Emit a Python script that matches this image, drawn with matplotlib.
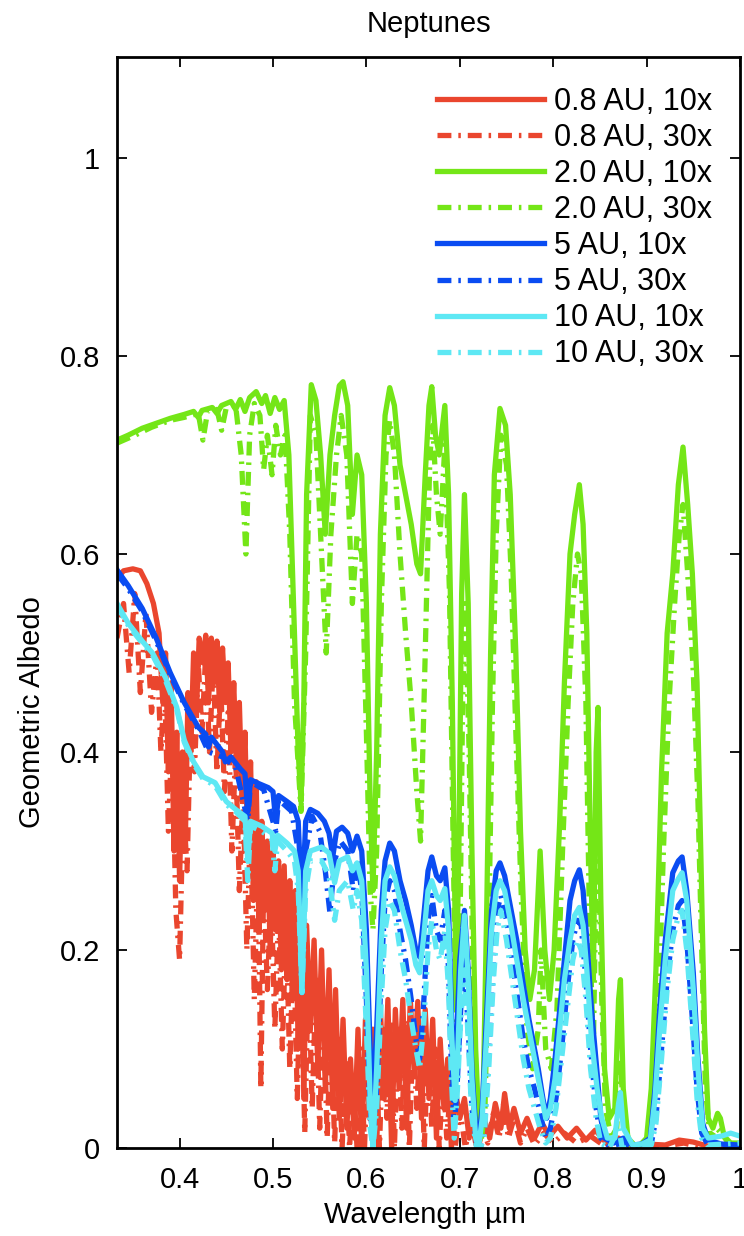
import numpy as np
import matplotlib
matplotlib.use("Agg")
import matplotlib.pyplot as plt

plt.rcParams['font.family'] = ['Liberation Sans', 'DejaVu Sans']
plt.rcParams['lines.scale_dashes'] = False

# ---------------- data (wavelength [um], geometric albedo) ----------------
R10 = [(0.333,0.575),(0.340,0.583),(0.350,0.585),(0.358,0.583),(0.365,0.570),(0.372,0.550),(0.378,0.520),
       (0.382,0.450),(0.385,0.500),(0.388,0.380),(0.391,0.470),(0.394,0.300),(0.397,0.420),(0.400,0.270),
       (0.403,0.400),(0.406,0.300),(0.409,0.460),(0.412,0.400),(0.415,0.500),(0.418,0.440),(0.421,0.515),
       (0.425,0.490),(0.428,0.518),(0.431,0.450),(0.434,0.515),(0.437,0.470),(0.440,0.512),(0.443,0.440),
       (0.446,0.505),(0.449,0.450),(0.452,0.490),(0.455,0.400),(0.458,0.470),(0.461,0.380),(0.464,0.450),
       (0.467,0.350),(0.470,0.420),(0.473,0.300),(0.476,0.390),(0.479,0.250),(0.482,0.370),(0.485,0.220),
       (0.488,0.330),(0.491,0.250),(0.494,0.310),(0.497,0.200),(0.500,0.300),(0.503,0.220),(0.506,0.290),
       (0.509,0.180),(0.512,0.285),(0.515,0.170),(0.518,0.270),(0.521,0.150),(0.524,0.260),(0.527,0.100),
       (0.530,0.240),(0.533,0.050),(0.536,0.225),(0.540,0.120),(0.544,0.210),(0.548,0.080),(0.552,0.200),
       (0.556,0.060),(0.560,0.180),(0.564,0.040),(0.567,0.160),(0.571,0.030),(0.575,0.130),(0.579,0.020),
       (0.583,0.090),(0.587,0.010),(0.591,0.120),(0.595,0.000),(0.599,0.130),(0.603,0.030),(0.607,0.120),
       (0.611,0.000),(0.615,0.140),(0.619,0.050),(0.623,0.150),(0.627,0.000),(0.631,0.140),(0.635,0.060),
       (0.639,0.150),(0.643,0.020),(0.647,0.150),(0.651,0.080),(0.655,0.148),(0.659,0.030),(0.663,0.140),
       (0.667,0.050),(0.671,0.130),(0.675,0.010),(0.679,0.110),(0.683,0.040),(0.687,0.090),(0.691,0.000),
       (0.695,0.060),(0.700,0.030),(0.705,0.050),(0.710,0.010),(0.715,0.040),(0.720,0.000),(0.726,0.030),
       (0.732,0.010),(0.738,0.045),(0.744,0.020),(0.748,0.055),(0.753,0.020),(0.758,0.040),(0.765,0.015),
       (0.772,0.030),(0.780,0.010),(0.788,0.025),(0.796,0.012),(0.805,0.022),(0.815,0.010),(0.825,0.020),
       (0.835,0.008),(0.845,0.018),(0.858,0.004),(0.870,0.010),(0.885,0.002),(0.900,0.004),(0.920,0.003),
       (0.935,0.008),(0.950,0.006),(0.965,0.002),(0.980,0.000),(1.000,0.000)]

R30 = [(0.333,0.515),(0.340,0.550),(0.346,0.480),(0.352,0.560),(0.358,0.460),(0.364,0.540),(0.370,0.440),
       (0.376,0.500),(0.380,0.400),(0.384,0.470),(0.388,0.320),(0.392,0.420),(0.396,0.240),(0.400,0.190),
       (0.404,0.350),(0.408,0.280),(0.412,0.440),(0.416,0.380),(0.420,0.490),(0.424,0.420),(0.428,0.500),
       (0.432,0.400),(0.436,0.490),(0.440,0.380),(0.444,0.470),(0.448,0.360),(0.452,0.440),(0.456,0.300),
       (0.460,0.400),(0.464,0.260),(0.468,0.360),(0.472,0.200),(0.476,0.330),(0.480,0.150),(0.484,0.300),
       (0.487,0.060),(0.490,0.270),(0.494,0.160),(0.498,0.260),(0.502,0.120),(0.506,0.240),(0.510,0.100),
       (0.514,0.230),(0.518,0.080),(0.522,0.210),(0.526,0.050),(0.530,0.200),(0.534,0.015),(0.538,0.180),
       (0.542,0.040),(0.546,0.170),(0.550,0.020),(0.554,0.150),(0.558,0.010),(0.562,0.130),(0.566,0.005),
       (0.570,0.110),(0.574,0.000),(0.578,0.090),(0.582,0.000),(0.586,0.070),(0.590,0.000),(0.594,0.100),
       (0.598,0.000),(0.602,0.110),(0.606,0.020),(0.610,0.100),(0.614,0.000),(0.618,0.120),(0.622,0.030),
       (0.626,0.130),(0.630,0.000),(0.634,0.120),(0.638,0.020),(0.642,0.130),(0.646,0.000),(0.650,0.120),
       (0.654,0.040),(0.658,0.120),(0.662,0.000),(0.666,0.110),(0.670,0.020),(0.674,0.100),(0.678,0.000),
       (0.682,0.080),(0.686,0.010),(0.690,0.060),(0.695,0.000),(0.700,0.040),(0.706,0.000),(0.712,0.030),
       (0.718,0.000),(0.724,0.020),(0.730,0.005),(0.736,0.035),(0.742,0.010),(0.747,0.045),(0.752,0.010),
       (0.758,0.030),(0.765,0.005),(0.772,0.020),(0.780,0.003),(0.790,0.015),(0.800,0.005),(0.812,0.015),
       (0.825,0.005),(0.840,0.012),(0.855,0.002),(0.870,0.006),(0.890,0.000),(0.920,0.002),(0.940,0.005),
       (0.960,0.000),(1.000,0.000)]

G10 = [(0.333,0.715),(0.345,0.720),(0.360,0.727),(0.375,0.732),(0.390,0.737),(0.405,0.741),(0.415,0.744),
       (0.420,0.738),(0.424,0.745),(0.435,0.748),(0.440,0.742),(0.445,0.750),(0.455,0.754),(0.460,0.746),
       (0.465,0.756),(0.470,0.744),(0.475,0.758),(0.482,0.764),(0.488,0.752),(0.492,0.760),(0.497,0.742),
       (0.502,0.758),(0.507,0.746),(0.512,0.755),(0.517,0.700),(0.522,0.550),(0.527,0.400),(0.530,0.350),
       (0.533,0.450),(0.536,0.660),(0.541,0.771),(0.546,0.755),(0.551,0.700),(0.556,0.620),(0.561,0.700),
       (0.566,0.740),(0.571,0.770),(0.575,0.774),(0.580,0.750),(0.585,0.640),(0.590,0.700),(0.595,0.680),
       (0.600,0.550),(0.604,0.350),(0.607,0.260),(0.611,0.400),(0.615,0.620),(0.620,0.740),(0.625,0.768),
       (0.630,0.750),(0.636,0.690),(0.642,0.660),(0.648,0.630),(0.654,0.590),(0.658,0.580),(0.663,0.680),
       (0.667,0.750),(0.670,0.769),(0.674,0.720),(0.678,0.700),(0.684,0.750),(0.688,0.660),(0.692,0.450),
       (0.696,0.150),(0.699,0.300),(0.702,0.560),(0.705,0.660),(0.709,0.550),(0.713,0.300),(0.717,0.100),
       (0.721,0.010),(0.725,0.050),(0.729,0.250),(0.733,0.500),(0.737,0.680),(0.743,0.747),(0.749,0.730),
       (0.754,0.660),(0.760,0.500),(0.765,0.320),(0.770,0.200),(0.775,0.150),(0.780,0.180),(0.786,0.300),
       (0.791,0.200),(0.796,0.150),(0.801,0.200),(0.807,0.330),(0.812,0.470),(0.818,0.600),(0.823,0.640),
       (0.828,0.670),(0.832,0.630),(0.836,0.520),(0.840,0.300),(0.843,0.170),(0.846,0.400),(0.848,0.445),
       (0.851,0.250),(0.855,0.080),(0.860,0.030),(0.866,0.040),(0.870,0.150),(0.872,0.170),(0.875,0.060),
       (0.880,0.010),(0.890,0.000),(0.900,0.010),(0.905,0.060),(0.910,0.180),(0.916,0.380),(0.922,0.520),
       (0.928,0.580),(0.934,0.670),(0.939,0.708),(0.944,0.650),(0.949,0.580),(0.954,0.470),(0.958,0.300),
       (0.962,0.120),(0.966,0.030),(0.971,0.020),(0.976,0.035),(0.979,0.030),(0.983,0.012),(0.990,0.005),
       (1.000,0.005)]

G30 = [(0.333,0.712),(0.350,0.719),(0.370,0.728),(0.390,0.735),(0.405,0.738),(0.420,0.742),(0.425,0.715),
       (0.430,0.744),(0.440,0.746),(0.445,0.725),(0.450,0.748),(0.460,0.750),(0.466,0.700),(0.471,0.600),
       (0.475,0.720),(0.480,0.752),(0.486,0.740),(0.490,0.685),(0.494,0.720),(0.499,0.680),(0.503,0.730),
       (0.508,0.700),(0.513,0.720),(0.518,0.620),(0.523,0.450),(0.530,0.340),(0.535,0.500),(0.540,0.740),
       (0.546,0.720),(0.552,0.600),(0.557,0.500),(0.562,0.620),(0.568,0.700),(0.573,0.740),(0.579,0.700),
       (0.585,0.550),(0.590,0.620),(0.595,0.600),(0.600,0.420),(0.604,0.260),(0.607,0.220),(0.611,0.300),
       (0.616,0.550),(0.621,0.700),(0.625,0.735),(0.630,0.700),(0.636,0.600),(0.642,0.520),(0.648,0.450),
       (0.654,0.360),(0.658,0.310),(0.663,0.500),(0.668,0.700),(0.671,0.730),(0.675,0.660),(0.679,0.620),
       (0.684,0.710),(0.689,0.560),(0.693,0.300),(0.697,0.080),(0.700,0.200),(0.703,0.450),(0.706,0.550),
       (0.710,0.400),(0.714,0.180),(0.718,0.050),(0.722,0.000),(0.727,0.040),(0.731,0.220),(0.735,0.450),
       (0.739,0.620),(0.744,0.720),(0.750,0.690),(0.755,0.580),(0.760,0.420),(0.766,0.250),(0.772,0.120),
       (0.778,0.080),(0.784,0.120),(0.787,0.200),(0.792,0.100),(0.798,0.080),(0.804,0.140),(0.810,0.300),
       (0.816,0.450),(0.821,0.550),(0.826,0.600),(0.830,0.580),(0.835,0.450),(0.839,0.220),(0.843,0.100),
       (0.846,0.280),(0.848,0.320),(0.852,0.150),(0.856,0.040),(0.862,0.010),(0.868,0.020),(0.872,0.090),
       (0.876,0.020),(0.885,0.000),(0.900,0.000),(0.906,0.030),(0.912,0.120),(0.918,0.300),(0.924,0.450),
       (0.930,0.550),(0.935,0.620),(0.939,0.650),(0.944,0.580),(0.950,0.480),(0.955,0.350),(0.959,0.200),
       (0.963,0.060),(0.968,0.010),(0.975,0.020),(0.980,0.015),(0.990,0.002),(1.000,0.002)]

B10 = [(0.333,0.584),(0.345,0.568),(0.360,0.545),(0.375,0.515),(0.390,0.480),(0.405,0.450),(0.420,0.425),
       (0.428,0.418),(0.431,0.405),(0.434,0.415),(0.446,0.400),(0.449,0.390),(0.455,0.395),(0.465,0.383),
       (0.470,0.378),(0.473,0.340),(0.476,0.372),(0.485,0.368),(0.495,0.364),(0.500,0.360),(0.503,0.330),
       (0.506,0.356),(0.515,0.350),(0.522,0.345),(0.527,0.330),(0.531,0.240),(0.535,0.330),(0.540,0.342),
       (0.548,0.338),(0.555,0.330),(0.560,0.318),(0.564,0.294),(0.568,0.320),(0.574,0.324),(0.580,0.318),
       (0.585,0.300),(0.590,0.315),(0.595,0.300),(0.600,0.220),(0.604,0.100),(0.607,0.048),(0.611,0.120),
       (0.616,0.240),(0.620,0.290),(0.625,0.308),(0.630,0.300),(0.636,0.270),(0.642,0.250),(0.648,0.225),
       (0.653,0.200),(0.657,0.193),(0.661,0.230),(0.666,0.280),(0.670,0.294),(0.675,0.275),(0.679,0.270),
       (0.684,0.283),(0.688,0.240),(0.691,0.140),(0.693,0.048),(0.696,0.100),(0.700,0.190),(0.705,0.240),
       (0.709,0.180),(0.713,0.080),(0.717,0.020),(0.720,0.008),(0.724,0.040),(0.729,0.140),(0.734,0.240),
       (0.739,0.280),(0.743,0.288),(0.748,0.275),(0.754,0.245),(0.761,0.210),(0.768,0.165),(0.774,0.130),
       (0.778,0.110),(0.784,0.080),(0.789,0.050),(0.793,0.030),(0.797,0.050),(0.802,0.090),(0.807,0.140),
       (0.812,0.190),(0.818,0.250),(0.823,0.270),(0.828,0.281),(0.832,0.260),(0.836,0.210),(0.841,0.140),
       (0.847,0.076),(0.851,0.030),(0.855,0.010),(0.865,0.005),(0.875,0.010),(0.885,0.003),(0.895,0.004),
       (0.904,0.010),(0.909,0.060),(0.914,0.140),(0.920,0.210),(0.928,0.278),(0.934,0.290),(0.938,0.294),
       (0.943,0.260),(0.950,0.177),(0.955,0.090),(0.960,0.025),(0.966,0.008),(0.980,0.004),(1.000,0.003)]

B30 = [(0.333,0.580),(0.345,0.565),(0.360,0.542),(0.375,0.512),(0.390,0.478),(0.405,0.448),(0.420,0.423),
       (0.431,0.400),(0.446,0.395),(0.460,0.385),(0.473,0.330),(0.476,0.370),(0.490,0.362),(0.503,0.320),
       (0.506,0.352),(0.520,0.340),(0.527,0.300),(0.531,0.157),(0.535,0.300),(0.542,0.335),(0.550,0.320),
       (0.556,0.280),(0.561,0.237),(0.566,0.290),(0.572,0.310),(0.580,0.300),(0.586,0.260),(0.590,0.290),
       (0.595,0.260),(0.600,0.150),(0.604,0.040),(0.607,0.010),(0.611,0.060),(0.616,0.180),(0.620,0.250),
       (0.625,0.270),(0.630,0.260),(0.636,0.220),(0.642,0.190),(0.648,0.150),(0.653,0.110),(0.657,0.090),
       (0.661,0.140),(0.666,0.230),(0.670,0.255),(0.675,0.220),(0.679,0.210),(0.684,0.240),(0.688,0.180),
       (0.691,0.080),(0.694,0.020),(0.697,0.060),(0.701,0.140),(0.705,0.190),(0.709,0.120),(0.713,0.040),
       (0.718,0.005),(0.722,0.000),(0.726,0.020),(0.731,0.100),(0.736,0.190),(0.740,0.240),(0.744,0.255),
       (0.750,0.230),(0.756,0.190),(0.762,0.150),(0.768,0.110),(0.774,0.080),(0.780,0.060),(0.786,0.035),
       (0.792,0.010),(0.797,0.020),(0.803,0.050),(0.809,0.100),(0.815,0.160),(0.821,0.210),(0.826,0.230),
       (0.830,0.225),(0.835,0.170),(0.840,0.100),(0.846,0.040),(0.851,0.010),(0.860,0.002),(0.875,0.005),
       (0.890,0.000),(0.905,0.004),(0.910,0.030),(0.916,0.100),(0.922,0.170),(0.928,0.220),(0.934,0.245),
       (0.938,0.250),(0.943,0.210),(0.949,0.130),(0.954,0.060),(0.959,0.015),(0.965,0.004),(1.000,0.002)]

C10 = [(0.333,0.550),(0.345,0.530),(0.360,0.512),(0.371,0.500),(0.385,0.475),(0.397,0.445),(0.405,0.412),
       (0.415,0.390),(0.425,0.375),(0.438,0.369),(0.450,0.350),(0.460,0.342),(0.470,0.335),(0.473,0.290),
       (0.476,0.330),(0.488,0.325),(0.499,0.318),(0.502,0.300),(0.505,0.316),(0.515,0.308),(0.523,0.300),
       (0.527,0.280),(0.531,0.157),(0.535,0.280),(0.540,0.300),(0.552,0.304),(0.560,0.298),(0.566,0.268),
       (0.571,0.290),(0.580,0.294),(0.585,0.280),(0.590,0.288),(0.595,0.270),(0.600,0.180),(0.604,0.050),
       (0.607,0.000),(0.611,0.080),(0.616,0.210),(0.620,0.270),(0.625,0.284),(0.630,0.275),(0.636,0.250),
       (0.642,0.230),(0.648,0.210),(0.653,0.185),(0.657,0.177),(0.661,0.210),(0.666,0.260),(0.670,0.270),
       (0.675,0.255),(0.679,0.250),(0.684,0.262),(0.688,0.220),(0.691,0.120),(0.695,0.048),(0.698,0.100),
       (0.701,0.180),(0.705,0.235),(0.709,0.170),(0.713,0.070),(0.717,0.010),(0.720,0.000),(0.724,0.030),
       (0.729,0.120),(0.734,0.220),(0.739,0.260),(0.743,0.270),(0.748,0.260),(0.754,0.230),(0.761,0.190),
       (0.768,0.150),(0.774,0.120),(0.780,0.090),(0.786,0.060),(0.792,0.030),(0.797,0.040),(0.802,0.070),
       (0.807,0.120),(0.812,0.170),(0.818,0.210),(0.823,0.235),(0.828,0.243),(0.832,0.225),(0.836,0.180),
       (0.841,0.110),(0.847,0.060),(0.852,0.030),(0.858,0.010),(0.866,0.010),(0.870,0.045),(0.872,0.056),
       (0.875,0.020),(0.885,0.003),(0.895,0.004),(0.904,0.008),(0.909,0.050),(0.914,0.120),(0.920,0.190),
       (0.928,0.260),(0.934,0.272),(0.938,0.278),(0.943,0.250),(0.950,0.160),(0.955,0.080),(0.960,0.020),
       (0.966,0.010),(0.980,0.012),(0.990,0.015),(1.000,0.012)]

C30 = [(0.333,0.548),(0.345,0.528),(0.360,0.510),(0.371,0.498),(0.385,0.472),(0.397,0.443),(0.405,0.410),
       (0.415,0.388),(0.425,0.373),(0.438,0.366),(0.450,0.347),(0.460,0.340),(0.470,0.330),(0.473,0.270),
       (0.476,0.325),(0.488,0.320),(0.499,0.312),(0.502,0.280),(0.505,0.310),(0.515,0.300),(0.523,0.290),
       (0.527,0.260),(0.531,0.157),(0.535,0.260),(0.540,0.290),(0.552,0.290),(0.560,0.275),(0.566,0.230),
       (0.571,0.260),(0.580,0.270),(0.586,0.240),(0.590,0.260),(0.595,0.230),(0.600,0.120),(0.604,0.020),
       (0.607,0.000),(0.611,0.040),(0.616,0.150),(0.620,0.220),(0.625,0.250),(0.630,0.240),(0.636,0.200),
       (0.642,0.170),(0.648,0.130),(0.653,0.100),(0.657,0.080),(0.661,0.120),(0.666,0.200),(0.670,0.230),
       (0.675,0.200),(0.679,0.190),(0.684,0.220),(0.688,0.160),(0.691,0.070),(0.694,0.010),(0.697,0.050),
       (0.701,0.130),(0.705,0.180),(0.709,0.110),(0.713,0.030),(0.718,0.000),(0.722,0.000),(0.726,0.010),
       (0.731,0.080),(0.736,0.170),(0.740,0.220),(0.744,0.240),(0.750,0.210),(0.756,0.170),(0.762,0.130),
       (0.768,0.090),(0.774,0.060),(0.780,0.040),(0.786,0.020),(0.792,0.005),(0.797,0.010),(0.803,0.040),
       (0.809,0.090),(0.815,0.140),(0.821,0.190),(0.826,0.210),(0.830,0.200),(0.835,0.150),(0.840,0.080),
       (0.846,0.030),(0.851,0.005),(0.860,0.000),(0.870,0.020),(0.874,0.000),(0.890,0.000),(0.905,0.003),
       (0.910,0.025),(0.916,0.090),(0.922,0.160),(0.928,0.210),(0.934,0.235),(0.938,0.240),(0.943,0.200),
       (0.949,0.120),(0.954,0.050),(0.959,0.010),(0.965,0.003),(1.000,0.005)]

labels = ['0.8 AU, 10x', '0.8 AU, 30x', '2.0 AU, 10x', '2.0 AU, 30x',
          '5 AU, 10x', '5 AU, 30x', '10 AU, 10x', '10 AU, 30x']
series = [R10, R30, G10, G30, B10, B30, C10, C30]
colors = ['#EA462E', '#EA462E', '#74E617', '#74E617',
          '#0A4CF2', '#0A4CF2', '#5EE8F4', '#5EE8F4']
styles = ['solid', 'dashdot'] * 4

xticks = [0.4, 0.5, 0.6, 0.7, 0.8, 0.9, 1.0]
yticks = [0, 0.2, 0.4, 0.6, 0.8, 1.0]

# ---------------- figure ----------------
fig = plt.figure(figsize=(7.44, 12.36), dpi=100)
ax = fig.add_axes([117/744, 88/1236, 623/744, 1091/1236])

for data, lab, col, st in zip(series, labels, colors, styles):
    arr = np.array(data)
    line, = ax.plot(arr[:, 0], arr[:, 1], color=col, lw=3.8, label=lab,
                    solid_joinstyle='round', dash_joinstyle='round')
    if st == 'dashdot':
        line.set_dashes([10, 5, 1.8, 5])

ax.set_xlim(0.333, 1.0)
ax.set_ylim(0, 1.102)
ax.set_xticks(xticks)
ax.set_xticklabels(['%g' % t for t in xticks])
ax.set_yticks(yticks)
ax.set_yticklabels(['%g' % t for t in yticks])
ax.tick_params(direction='in', length=7, width=1.3, top=True, right=True,
               labelsize=21)
ax.tick_params(axis='x', pad=13)
ax.tick_params(axis='y', pad=12)
for sp in ax.spines.values():
    sp.set_linewidth(2)

ax.set_title('Neptunes', fontsize=21, pad=18)
ax.set_xlabel('Wavelength µm', fontsize=21)
ax.xaxis.set_label_coords(0.495, -0.049)
ax.set_ylabel('Geometric Albedo', fontsize=21)
ax.yaxis.set_label_coords(-0.114, 0.40)

leg = ax.legend(loc='upper right', bbox_to_anchor=(0.975, 0.984), frameon=False,
                fontsize=22, handlelength=3.5, handletextpad=0.33,
                labelspacing=0.2, borderaxespad=0)

fig.savefig('out.png', dpi=100)
